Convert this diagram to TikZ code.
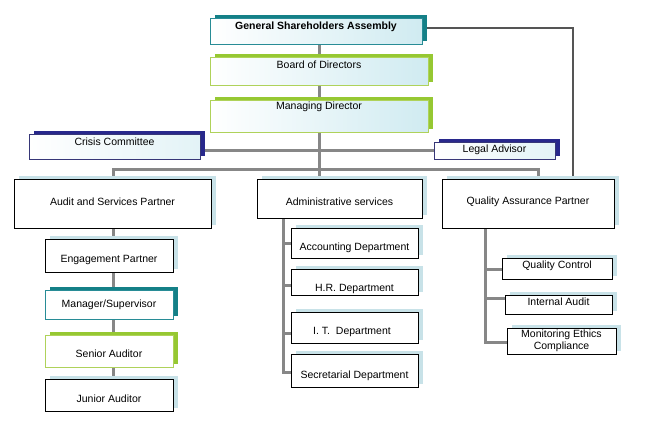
\documentclass[tikz,border=0pt]{standalone}
\usepackage{fontspec}
\setmainfont{Liberation Sans}
\usetikzlibrary{shadows}
\definecolor{tealc}{RGB}{20,128,135}
\definecolor{tealb}{RGB}{40,140,150}
\definecolor{greenc}{RGB}{150,200,50}
\definecolor{greenb}{RGB}{175,210,90}
\definecolor{navyc}{RGB}{40,40,140}
\definecolor{navyb}{RGB}{55,55,120}
\definecolor{lblue}{RGB}{200,226,232}
\definecolor{gradc}{RGB}{208,235,241}
\definecolor{linec}{RGB}{135,135,135}
\definecolor{thinc}{RGB}{85,85,85}
\pgfdeclarelayer{bg}
\pgfsetlayers{bg,main}
\tikzset{
  boxbase/.style={rectangle, inner sep=0pt, line width=0.9pt},
  sz/.style n args={2}{minimum width=#1, minimum height=#2},
  shd/.style={general shadow={fill=#1, shadow xshift=5pt, shadow yshift=3pt}},
  gradbox/.style={left color=white, right color=gradc},
  tealbox/.style={boxbase, draw=tealb, shd=tealc, gradbox},
  greenbox/.style={boxbase, draw=greenb, shd=greenc, gradbox},
  navybox/.style={boxbase, draw=navyb, shd=navyc, left color=white, right color=gradc!60},
  bluebox/.style={boxbase, draw=black, shd=lblue, fill=white},
  tealsmall/.style={boxbase, draw=tealb, shd=tealc, fill=white},
  greensmall/.style={boxbase, draw=greenb, shd=greenc, fill=white},
  txt/.style={inner sep=0pt, font=\fontsize{10.5}{12}\selectfont, align=center},
  conn/.style={draw=linec, line width=3pt},
  thinconn/.style={draw=thinc, line width=1.1pt}
}
\begin{document}
\begin{tikzpicture}[x=1pt,y=-1pt]
\useasboundingbox (0,0) rectangle (649,434);
% boxes
\node[tealbox, sz={212pt}{26pt}] (gsa) at (316,31) {};
\node[greenbox, sz={218pt}{28pt}] (bod) at (319,71) {};
\node[greenbox, sz={218pt}{32pt}] (md) at (319,116) {};
\node[navybox, sz={171pt}{25pt}] (cc) at (114.5,146.5) {};
\node[navybox, sz={121pt}{17pt}] (la) at (494.5,150.5) {};
\node[bluebox, sz={197pt}{49pt}] (asp) at (112.5,203.5) {};
\node[bluebox, sz={165pt}{39pt}] (adm) at (339.5,198.5) {};
\node[bluebox, sz={172pt}{49pt}] (qap) at (528,203.5) {};
\node[bluebox, sz={128pt}{33pt}] (ep) at (109,255.5) {};
\node[tealsmall, sz={128pt}{29pt}] (ms) at (109,304.5) {};
\node[greensmall, sz={128pt}{32pt}] (sa) at (109,351) {};
\node[bluebox, sz={128pt}{32pt}] (ja) at (109,395) {};
\node[bluebox, sz={127pt}{30pt}] (acc) at (354.5,243) {};
\node[bluebox, sz={127pt}{26pt}] (hr) at (354.5,282) {};
\node[bluebox, sz={127pt}{31pt}] (it) at (354.5,327.5) {};
\node[bluebox, sz={127pt}{33pt}] (sec) at (354.5,370.5) {};
\node[bluebox, sz={110pt}{21pt}] (qc) at (557,268.5) {};
\node[bluebox, sz={107pt}{19pt}] (ia) at (558.5,304.5) {};
\node[bluebox, sz={109pt}{26pt}] (mec) at (561.5,341) {};
% texts
\node[txt] (gsa-t) at (316,27) {\bfseries General Shareholders Assembly};
\node[txt] (bod-t) at (319,65) {Board of Directors};
\node[txt] (md-t) at (319,107) {Managing Director};
\node[txt] (cc-t) at (114.5,142) {Crisis Committee};
\node[txt] (la-t) at (494.5,150) {Legal Advisor};
\node[txt] (asp-t) at (112.5,202) {Audit and Services Partner};
\node[txt] (adm-t) at (339.5,202) {Administrative services};
\node[txt] (qap-t) at (528,202) {Quality Assurance Partner};
\node[txt] (ep-t) at (109,260) {Engagement Partner};
\node[txt] (ms-t) at (109,305) {Manager/Supervisor};
\node[txt] (sa-t) at (109,354) {Senior Auditor};
\node[txt] (ja-t) at (109,399) {Junior Auditor};
\node[txt] (acc-t) at (354.5,248) {Accounting Department};
\node[txt] (hr-t) at (354.5,289) {H.R. Department};
\node[txt] (it-t) at (352,332) {I. T.\ \ Department};
\node[txt] (sec-t) at (354.5,376) {Secretarial Department};
\node[txt] (qc-t) at (557,266) {Quality Control};
\node[txt] (ia-t) at (558.5,302) {Internal Audit};
\node[txt] (mec-t) at (561.5,341) {Monitoring Ethics\\Compliance};
% connectors
\coordinate (spine) at (319,169);
\coordinate (h1) at (319,150);
\coordinate (lA) at (113,169);
\coordinate (lQ) at (538,169);
\coordinate (gq) at (573,28);
\coordinate (b1) at (283,243);
\coordinate (b2) at (283,285);
\coordinate (b3) at (283,333);
\coordinate (b4) at (283,372);
\coordinate (q1) at (485,269);
\coordinate (q2) at (485,298);
\coordinate (q3) at (485,342);
\begin{pgfonlayer}{bg}
\draw[conn] (gsa.south -| spine) -- (adm.north -| spine);
\draw[conn] (cc.east |- h1) -- (la.west |- h1);
\draw[conn] (asp.north -| lA) -- (lA) -- (lQ) -- (qap.north -| lQ);
\draw[thinconn] (gsa.east |- gq) -- (gq) -- (qap.north -| gq);
\draw[conn] (asp.south -| lA) -- (ja.north -| lA);
\draw[conn] (adm.south -| b4) -- (b4) -- (sec.west |- b4);
\draw[conn] (b1) -- (acc.west |- b1);
\draw[conn] (b2) -- (hr.west |- b2);
\draw[conn] (b3) -- (it.west |- b3);
\draw[conn] (qap.south -| q3) -- (q3) -- (mec.west |- q3);
\draw[conn] (q1) -- (qc.west |- q1);
\draw[conn] (q2) -- (ia.west |- q2);
\end{pgfonlayer}
\end{tikzpicture}
\end{document}
